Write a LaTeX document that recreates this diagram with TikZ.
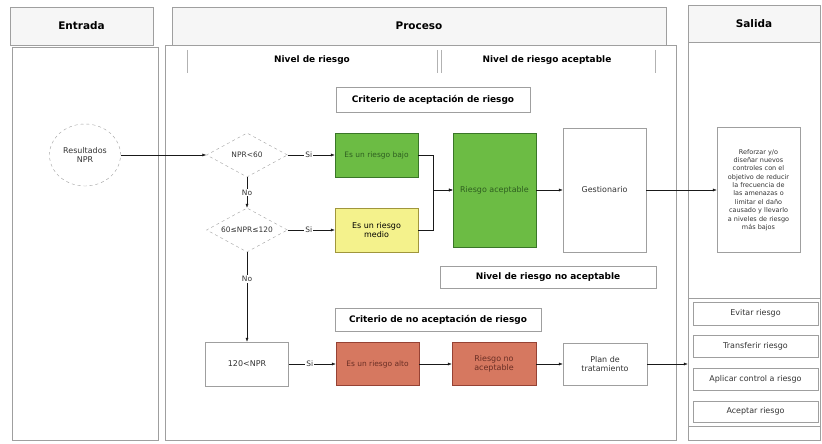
\documentclass[tikz,border=0pt]{standalone}
\usepackage{fontspec}
\setmainfont{DejaVu Sans}
\usetikzlibrary{shapes.geometric,arrows.meta}

\definecolor{verde}{RGB}{108,188,68}
\definecolor{verdeosc}{RGB}{58,118,40}
\definecolor{amarillo}{RGB}{244,242,140}
\definecolor{amarilloosc}{RGB}{160,150,60}
\definecolor{rojo}{RGB}{214,120,96}
\definecolor{rojoosc}{RGB}{150,66,52}

\tikzset{
    lane/.style = {draw=gray!75, thin},
    lanehead/.style = {draw=gray!75, thin, fill=gray!7, font=\bfseries\fontsize{10.5}{12}\selectfont},
    subhead/.style = {font=\bfseries\fontsize{9}{10}\selectfont},
    crit/.style = {draw=gray!75, thin, font=\bfseries\fontsize{9}{10}\selectfont, inner sep=1pt},
    box/.style = {draw=gray!75, thin, align=center, inner sep=1pt,
        font=\fontsize{8}{9.5}\selectfont, text=gray!40!black},
    decision/.style = {diamond, aspect=1.84, draw=gray!75, dashed, thin, inner sep=0pt,
        minimum width=81bp, minimum height=44bp, font=\fontsize{7.5}{9}\selectfont, text=gray!40!black},
    flow/.style = {-{Latex[length=4pt,width=3pt]}, gray!20!black, line width=0.5pt},
    tag/.style = {fill=white, inner sep=1pt, font=\fontsize{7.5}{8}\selectfont, text=gray!40!black},
}

\begin{document}
\begin{tikzpicture}[x=1bp,y=-1bp]
    \useasboundingbox (0,0) rectangle (822,444);

    % carriles
    \node [lanehead, minimum width=143bp, minimum height=38bp] (entrada) at (81.5,26) {Entrada};
    \node [lanehead, minimum width=494bp, minimum height=38bp] (proceso) at (419,26) {Proceso};
    \node [lanehead, minimum width=132bp, minimum height=37bp] (salida) at (754,24) {Salida};
    \draw [lane] (12,47) rectangle (158,440);
    \draw [lane] (165,45) rectangle (676,440);
    \draw [lane] (688,42) rectangle (820,440);

    % subtitulos
    \node [subhead] (nivel) at (312,60) {Nivel de riesgo};
    \node [subhead] (nivelok) at (547,60) {Nivel de riesgo aceptable};
    \draw [gray!60] (187,50) -- (187,73) (437,50) -- (437,73)
        (441,50) -- (441,73) (655,50) -- (655,73);
    \node [crit, minimum width=194bp, minimum height=25bp] (critok) at (433,99.5)
        {Criterio de aceptación de riesgo};
    \node [crit, minimum width=216bp, minimum height=22bp] (nivelno) at (548,277.5)
        {Nivel de riesgo no aceptable};
    \node [crit, minimum width=206bp, minimum height=23bp] (critno) at (438,319.5)
        {Criterio de no aceptación de riesgo};

    % entrada
    \node [ellipse, draw=gray!75, dashed, thin, minimum width=69bp, minimum height=62bp,
        align=center, font=\fontsize{8}{9}\selectfont, text=gray!40!black] (npr) at (85,155)
        {Resultados\\NPR};

    % proceso
    \node [decision] (d1) at (247,155) {NPR<60};
    \node [decision] (d2) at (247,230) {60≤NPR≤120};
    \node [box, minimum width=83bp, minimum height=44bp] (alto) at (247,364) {120<NPR};

    \node [box, fill=verde, draw=verdeosc, text=verdeosc!80!black, font=\fontsize{7.5}{9}\selectfont,
        minimum width=83bp, minimum height=44bp] (bajo) at (376.5,155) {Es un riesgo bajo};
    \node [box, fill=amarillo, draw=amarilloosc, text=black,
        minimum width=83bp, minimum height=44bp] (medio) at (376.5,230) {Es un riesgo\\medio};
    \node [box, fill=verde, draw=verdeosc, text=verdeosc!80!black,
        minimum width=83bp, minimum height=114bp] (acept) at (494.5,190) {Riesgo aceptable};
    \node [box, minimum width=83bp, minimum height=124bp] (gest) at (604.5,190) {Gestionario};

    \node [box, fill=rojo, draw=rojoosc, text=rojoosc!70!black, font=\fontsize{7.5}{9}\selectfont,
        minimum width=83bp, minimum height=43bp] (ralto) at (377.5,364) {Es un riesgo alto};
    \node [box, fill=rojo, draw=rojoosc, text=rojoosc!70!black,
        minimum width=84bp, minimum height=43bp] (noacept) at (494,364) {Riesgo no\\aceptable};
    \node [box, minimum width=84bp, minimum height=42bp] (plan) at (605,364) {Plan de\\tratamiento};

    % salida
    \node [box, font=\fontsize{6.5}{8.4}\selectfont, minimum width=83bp, minimum height=125bp,
        text width=81bp] (refuerzo) at (758.5,190)
        {Reforzar y/o\\diseñar nuevos\\controles con el\\objetivo de reducir\\la frecuencia de\\las amenazas o\\limitar el daño\\causado y llevarlo\\a niveles de riesgo\\más bajos};
    \node [draw=gray!75, thin, minimum width=132bp, minimum height=128bp] (acciones) at (754,362) {};
    \node [box, minimum width=125bp, minimum height=23bp] (evitar) at (755.5,313.5) {Evitar riesgo};
    \node [box, minimum width=125bp, minimum height=22bp] (transf) at (755.5,346) {Transferir riesgo};
    \node [box, minimum width=125bp, minimum height=22bp] (control) at (755.5,379) {Aplicar control a riesgo};
    \node [box, minimum width=125bp, minimum height=21bp] (aceptar) at (755.5,411.5) {Aceptar riesgo};

    % conectores
    \draw [flow] (npr) -- (d1);
    \draw [flow] (d1) -- node [tag, pos=0.45] {Si} (bajo);
    \draw [flow] (d1) -- node [tag] {No} (d2);
    \draw [flow] (d2) -- node [tag, pos=0.45] {Si} (medio);
    \draw [flow] (d2) -- node [tag, pos=0.3] {No} (alto);
    \draw [flow] (bajo.east) -- ++(15,0) |- (acept.west);
    \draw [flow] (medio.east) -- ++(15,0) |- (acept.west);
    \draw [flow] (acept) -- (gest);
    \draw [flow] (gest) -- (refuerzo);
    \draw [flow] (alto) -- node [tag, pos=0.45] {Si} (ralto);
    \draw [flow] (ralto) -- (noacept);
    \draw [flow] (noacept) -- (plan);
    \draw [flow] (plan.east) -- (acciones.west |- plan.east);
\end{tikzpicture}
\end{document}
